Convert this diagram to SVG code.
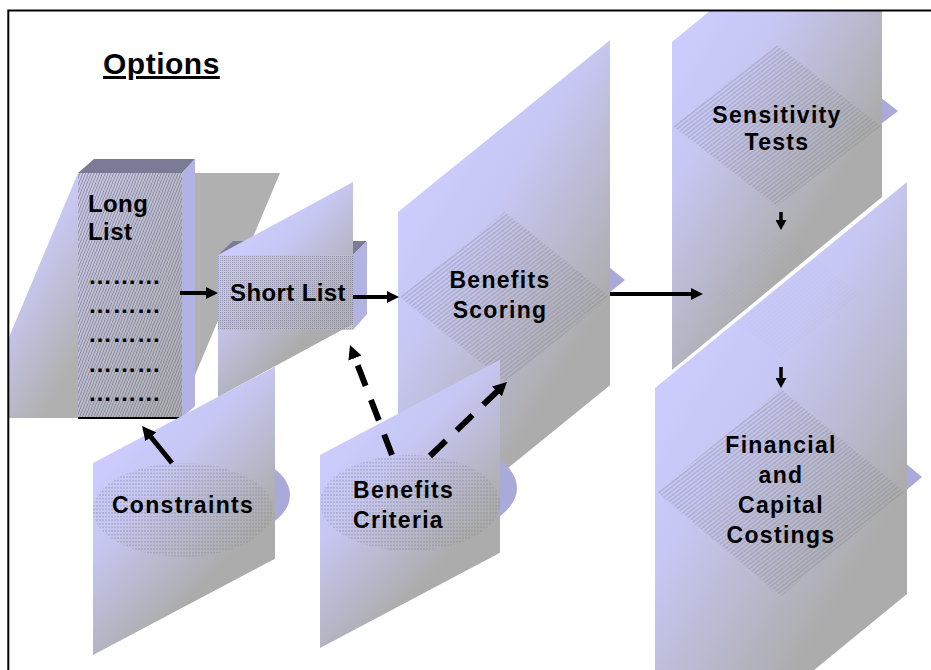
<svg xmlns="http://www.w3.org/2000/svg" width="931" height="670" viewBox="0 0 931 670">
  <defs>
    <style>
      .lbl{font-family:"Liberation Sans",Arial,Helvetica,sans-serif;font-weight:bold;font-size:23px;letter-spacing:1.3px;fill:#000}
      .big{font-size:24px;letter-spacing:0.4px}
      .mid{text-anchor:middle}
      .shade{fill:url(#shade)}
      .bump{fill:#a9a9da}
      .top{fill:#7b7b97}
      .side{fill:#b3b3e3}
      .diag{fill:url(#hatchDiag)}
      .horiz{fill:url(#hatchH)}
      .flow{stroke:#000;fill:none}
    </style>
    <clipPath id="frameClip">
      <rect x="9" y="11" width="922" height="660"/>
    </clipPath>
    <!-- soft lavender-to-grey fill shared by the slanted backdrop panels -->
    <linearGradient id="shade" x1="0" y1="0" x2="0.5" y2="1">
      <stop offset="0" stop-color="#ccccff"/>
      <stop offset="0.35" stop-color="#c7c7f4"/>
      <stop offset="1" stop-color="#acacac"/>
    </linearGradient>
    <linearGradient id="shadeH" x1="0.3" y1="0" x2="0.62" y2="0.15">
      <stop offset="0" stop-color="#ccccff"/>
      <stop offset="1" stop-color="#b0b0b0"/>
    </linearGradient>
    <linearGradient id="faceLL" x1="0" y1="0" x2="1" y2="1">
      <stop offset="0" stop-color="#c8c8f0"/>
      <stop offset="1" stop-color="#aeaeb4"/>
    </linearGradient>
    <linearGradient id="faceSL" x1="0" y1="0" x2="1" y2="1">
      <stop offset="0" stop-color="#c6c6f0"/>
      <stop offset="1" stop-color="#b2b2bc"/>
    </linearGradient>
    <!-- fine line textures -->
    <pattern id="hatchDiag" width="6" height="3.4" patternUnits="userSpaceOnUse" patternTransform="rotate(-38)">
      <line x1="0" y1="1.7" x2="6" y2="1.7" stroke="#80808c" stroke-width="0.6"/>
    </pattern>
    <pattern id="hatchH" width="3" height="3.6" patternUnits="userSpaceOnUse">
      <line x1="0" y1="1.8" x2="3" y2="1.8" stroke="#858590" stroke-width="0.7" stroke-dasharray="2 1"/>
    </pattern>
    <pattern id="hatchSteep" width="4" height="2.6" patternUnits="userSpaceOnUse" patternTransform="rotate(-68)">
      <line x1="0" y1="1.3" x2="4" y2="1.3" stroke="#7a7a7a" stroke-width="0.7"/>
    </pattern>
    <pattern id="dots" width="2" height="2" patternUnits="userSpaceOnUse">
      <rect width="1" height="1" fill="#6e6e80" opacity="0.55"/>
    </pattern>
    <!-- arrowheads -->
    <marker id="ah" viewBox="0 0 12 12" refX="4" refY="6" markerWidth="12" markerHeight="12" markerUnits="userSpaceOnUse" orient="auto">
      <path d="M0,0 L12,6 L0,12 z" fill="#000"/>
    </marker>
    <marker id="ahSmall" viewBox="0 0 10 11" refX="3" refY="5.5" markerWidth="10" markerHeight="11" markerUnits="userSpaceOnUse" orient="auto">
      <path d="M0,0 L10,5.5 L0,11 z" fill="#000"/>
    </marker>
    <marker id="ahBig" viewBox="0 0 14 14" refX="5" refY="7" markerWidth="14" markerHeight="14" markerUnits="userSpaceOnUse" orient="auto">
      <path d="M0,0 L14,7 L0,14 z" fill="#000"/>
    </marker>
  </defs>

  <rect width="931" height="670" fill="#fff"/>

  <g clip-path="url(#frameClip)">
    <g id="title">
      <text class="lbl" x="103" y="74" style="font-size:30px;letter-spacing:0.5px;text-decoration:underline">Options</text>
    </g>

    <g id="node-long-list">
      <polygon points="78,173 280,173 177,418 -25,418" fill="url(#shadeH)"/>
      <rect x="78" y="173" width="104" height="245" fill="url(#faceLL)"/>
      <rect x="78" y="173" width="104" height="245" fill="url(#hatchSteep)"/>
      <polygon class="top" points="78,173 94,159 195,159 182,173"/>
      <polygon class="side" points="182,173 195,159 195,406 182,418"/>
      <line x1="78" y1="418" x2="181" y2="418" stroke="#000" stroke-width="2"/>
      <text class="lbl big" x="88" y="212">Long</text>
      <text class="lbl big" x="88" y="240">List</text>
      <text class="lbl big" x="88" y="284">………</text>
      <text class="lbl big" x="88" y="313">………</text>
      <text class="lbl big" x="88" y="342">………</text>
      <text class="lbl big" x="88" y="372">………</text>
      <text class="lbl big" x="88" y="401">………</text>
    </g>

    <g id="node-short-list">
      <polygon class="top" points="218,255 233,241 367,241 353,255"/>
      <polygon class="side" points="353,255 367,241 367,314 353,330"/>
      <rect class="shade" width="135" height="142" transform="translate(218,255) skewY(-28.4)"/>
      <rect x="218" y="255" width="135" height="75" fill="url(#faceSL)" opacity="0.7"/>
      <rect x="218" y="255" width="135" height="75" fill="url(#dots)"/>
      <text class="lbl big" x="230" y="301">Short List</text>
    </g>

    <g id="node-benefits-scoring">
      <polygon class="bump" points="415,280 520,195 625,280 520,365"/>
      <rect class="shade" width="212" height="345" transform="translate(398,212) skewY(-39)"/>
      <polygon class="diag" points="400,297 505,212 610,297 505,382"/>
      <text class="lbl mid" x="500" y="288">Benefits</text>
      <text class="lbl mid" x="500" y="318">Scoring</text>
    </g>

    <g id="node-sensitivity-tests">
      <polygon class="bump" points="690,111 794,30 898,111 794,191"/>
      <rect class="shade" width="210" height="328" transform="translate(672,42) skewY(-39.5)"/>
      <polygon class="diag" points="673,126 777,45 881,126 777,206"/>
      <text class="lbl mid" x="777" y="123">Sensitivity</text>
      <text class="lbl mid" x="777" y="150">Tests</text>
    </g>

    <g id="node-financial">
      <polygon class="bump" points="674,477 798,374 922,477 798,581"/>
      <rect class="shade" width="252" height="412" transform="translate(655,388) skewY(-39.25)"/>
      <polygon class="diag" points="657,492 781,389 905,492 781,596"/>
      <text class="lbl mid" x="781" y="453">Financial</text>
      <text class="lbl mid" x="781" y="483">and</text>
      <text class="lbl mid" x="781" y="513">Capital</text>
      <text class="lbl mid" x="781" y="543">Costings</text>
    </g>

    <g id="node-centre" opacity="0.12">
      <polygon class="diag" points="703,294 781,232 859,294 781,357"/>
    </g>

    <g id="node-constraints">
      <ellipse class="bump" cx="200" cy="495" rx="90" ry="47"/>
      <rect class="shade" width="182" height="192" transform="translate(93,463) skewY(-27.9)"/>
      <ellipse class="horiz" cx="183" cy="510" rx="90" ry="47"/>
      <text class="lbl mid" x="183" y="513">Constraints</text>
    </g>

    <g id="node-benefits-criteria">
      <ellipse class="bump" cx="427" cy="488" rx="90" ry="48"/>
      <rect class="shade" width="180" height="193" transform="translate(320,455) skewY(-27.9)"/>
      <ellipse class="horiz" cx="410" cy="503" rx="90" ry="48"/>
      <text class="lbl" x="353" y="498">Benefits</text>
      <text class="lbl" x="353" y="528">Criteria</text>
    </g>

    <g id="connectors">
      <path class="flow" d="M180,293 H210" stroke-width="4" marker-end="url(#ah)"/>
      <path class="flow" d="M353,297 H391" stroke-width="4" marker-end="url(#ah)"/>
      <path class="flow" d="M610,294 H695" stroke-width="4" marker-end="url(#ah)"/>
      <path class="flow" d="M781,212 V223" stroke-width="3.5" marker-end="url(#ahSmall)"/>
      <path class="flow" d="M781,367 V381" stroke-width="3.5" marker-end="url(#ahSmall)"/>
      <path class="flow" d="M172,463 L147.7,433" stroke-width="5" marker-end="url(#ahBig)"/>
      <path class="flow" d="M392,455 L353.2,353.4" stroke-width="6" stroke-dasharray="22 15" marker-end="url(#ahBig)"/>
      <path class="flow" d="M430,456 L500.5,388.2" stroke-width="6" stroke-dasharray="22 15" marker-end="url(#ahBig)"/>
    </g>
  </g>

  <rect x="8.3" y="10.5" width="940" height="680" fill="none" stroke="#000" stroke-width="2"/>
</svg>
